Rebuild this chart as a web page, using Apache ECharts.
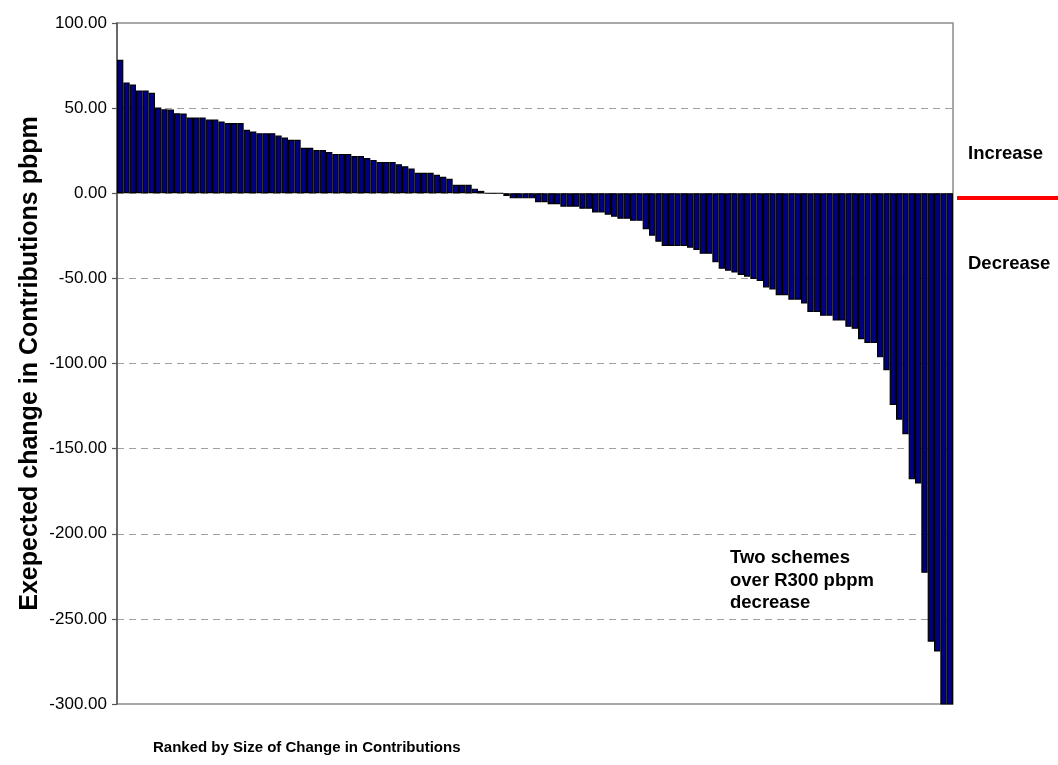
<!DOCTYPE html>
<html>
<head>
<meta charset="utf-8">
<script src="https://cdn.jsdelivr.net/npm/echarts@6/dist/echarts.min.js"></script>
<style>
  html, body { margin: 0; padding: 0; background: #ffffff; }
  #chart { width: 1058px; height: 765px; }
</style>
</head>
<body>
<div id="chart"></div>
<script>
// Expected change in monthly contributions per scheme, ranked from largest increase to largest decrease
const changeValues = [
  78.4, 65.1, 63.9, 60.4, 60.4, 59.0, 50.4, 49.4, 49.2, 47.0,
  46.9, 44.5, 44.5, 44.5, 43.3, 43.3, 42.2, 41.2, 41.2, 41.2,
  37.3, 36.3, 35.3, 35.3, 35.3, 33.9, 32.7, 31.4, 31.4, 26.7,
  26.7, 25.4, 25.4, 24.2, 23.1, 23.1, 23.1, 21.9, 21.9, 20.7,
  19.6, 18.4, 18.4, 18.4, 17.1, 15.9, 14.5, 12.0, 12.0, 12.0,
  10.9, 9.7, 8.5, 5.0, 5.0, 5.0, 2.7, 1.4, 0, 0,
  0, -1.6, -3.0, -3.0, -3.0, -3.0, -5.3, -5.3, -6.5, -6.5,
  -7.9, -7.9, -7.9, -9.1, -9.1, -11.3, -11.3, -12.6, -13.8, -15.0,
  -15.0, -16.2, -16.2, -21.1, -24.9, -28.5, -31.0, -31.0, -31.0, -31.0,
  -32.0, -33.3, -35.6, -35.6, -40.5, -44.3, -45.5, -46.6, -48.0, -49.0,
  -50.4, -51.6, -55.3, -56.5, -59.9, -59.9, -62.5, -62.5, -64.8, -69.8,
  -69.8, -72.0, -72.0, -74.8, -74.8, -78.4, -79.6, -85.7, -87.9, -87.9,
  -96.4, -104.0, -124.4, -133.0, -141.6, -168.0, -170.5, -222.9, -263.4, -269.2,
  -310.0, -320.0
];

// Rank position of each scheme (1 = largest increase)
const rankCategories = changeValues.map((_, i) => String(i + 1));

// Value axis range
const yMin = -300;
const yMax = 100;
const yStep = 50;

const fontFamily = "'Liberation Sans', Arial, sans-serif";

const chart = echarts.init(document.getElementById('chart'), null, { renderer: 'canvas' });

chart.setOption({
  animation: false,
  backgroundColor: '#ffffff',
  grid: {
    left: 117,
    right: 105,
    top: 23,
    bottom: 61,
    containLabel: false,
    outerBoundsMode: 'none',
    show: true,
    borderColor: '#8c8c8c',
    borderWidth: 1.5,
    backgroundColor: 'transparent'
  },
  xAxis: {
    type: 'category',
    data: rankCategories,
    boundaryGap: true,
    axisLine: { show: false },
    axisTick: { show: false },
    axisLabel: { show: false },
    splitLine: { show: false }
  },
  yAxis: {
    type: 'value',
    min: yMin,
    max: yMax,
    interval: yStep,
    name: 'Exepected change in Contributions pbpm',
    nameLocation: 'middle',
    nameGap: 74,
    nameMoveOverlap: false,
    nameTextStyle: {
      fontFamily: fontFamily,
      fontWeight: 'bold',
      fontSize: 25,
      color: '#000000'
    },
    axisLine: { show: true, lineStyle: { color: '#555555', width: 1.5 } },
    axisTick: { show: true, inside: false, length: 5, lineStyle: { color: '#555555', width: 1.2 } },
    axisLabel: {
      margin: 10,
      fontFamily: fontFamily,
      fontSize: 17,
      color: '#000000',
      formatter: v => v.toFixed(2)
    },
    splitLine: {
      show: true,
      showMinLine: false,
      showMaxLine: false,
      lineStyle: { color: '#a0a0a0', type: [7, 5], width: 1 }
    }
  },
  series: [{
    type: 'bar',
    data: changeValues,
    barCategoryGap: '0%',
    barGap: '0%',
    clip: true,
    itemStyle: {
      color: '#000080',
      borderColor: '#000000',
      borderWidth: 1.2
    }
  }],
  graphic: [
    {
      // marker separating increases from decreases, beside the zero line
      type: 'line',
      shape: { x1: 957, y1: 198, x2: 1058, y2: 198 },
      style: { stroke: '#ff0000', lineWidth: 4 },
      z: 10
    },
    {
      type: 'text',
      left: 968,
      top: 144,
      style: {
        text: 'Increase',
        font: "bold 18.5px 'Liberation Sans', Arial, sans-serif",
        fill: '#000000'
      }
    },
    {
      type: 'text',
      left: 968,
      top: 254,
      style: {
        text: 'Decrease',
        font: "bold 18.5px 'Liberation Sans', Arial, sans-serif",
        fill: '#000000'
      }
    },
    {
      type: 'text',
      left: 730,
      top: 547,
      style: {
        text: 'Two schemes\nover R300 pbpm\ndecrease',
        font: "bold 18.5px 'Liberation Sans', Arial, sans-serif",
        lineHeight: 22.5,
        fill: '#000000'
      }
    },
    {
      type: 'text',
      left: 153,
      top: 740,
      style: {
        text: 'Ranked by Size of Change in Contributions',
        font: "bold 15px 'Liberation Sans', Arial, sans-serif",
        fill: '#000000'
      }
    }
  ]
});
</script>
</body>
</html>
